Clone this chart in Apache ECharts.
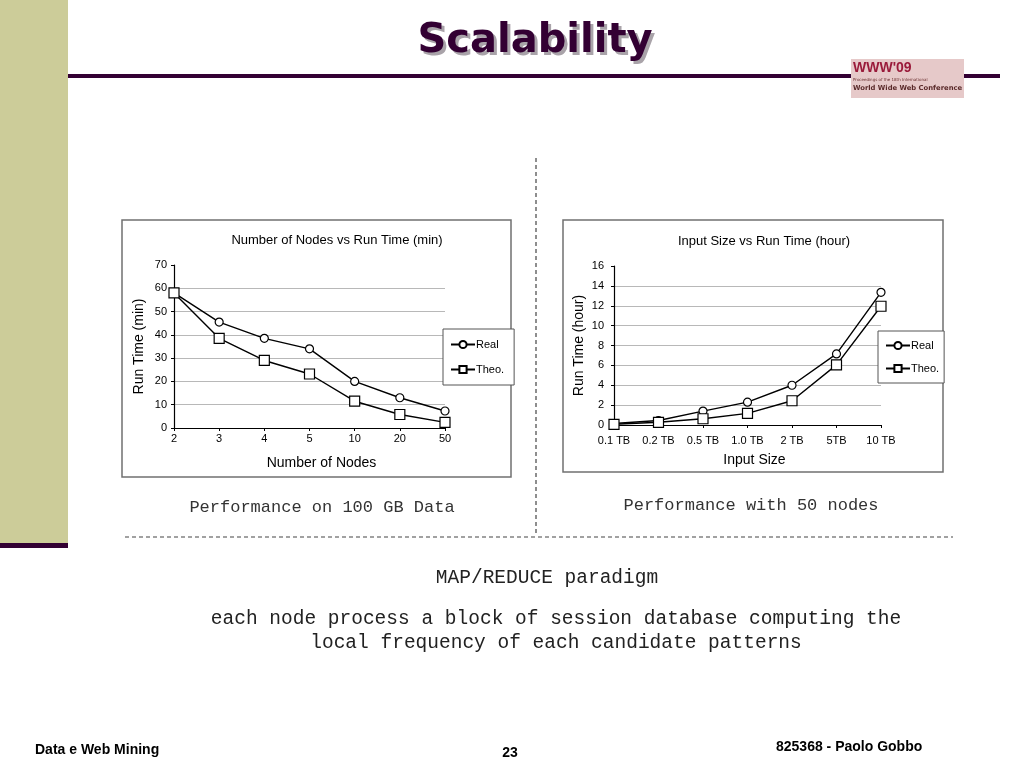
<!DOCTYPE html>
<html>
<head>
<meta charset="utf-8">
<script src="https://cdn.jsdelivr.net/npm/echarts@6/dist/echarts.min.js"></script>
<style>
html,body{margin:0;padding:0;background:#fff;}
#c{width:1024px;height:768px;}
</style>
</head>
<body>
<div id="c"></div>
<script>
// ---- data ----
const nodeCategories = ['2', '3', '4', '5', '10', '20', '50'];
const nodesReal = [58, 45.5, 38.5, 34, 20, 13, 7.3];
const nodesTheo = [58, 38.5, 29, 23.2, 11.5, 5.8, 2.4];
const nodeTicks = [0, 10, 20, 30, 40, 50, 60, 70];

const sizeCategories = ['0.1 TB', '0.2 TB', '0.5 TB', '1.0 TB', '2 TB', '5TB', '10 TB'];
const sizeReal = [0.15, 0.45, 1.4, 2.3, 4.0, 7.15, 13.35];
const sizeTheo = [0.07, 0.27, 0.63, 1.17, 2.44, 6.05, 11.95];
const sizeTicks = [0, 2, 4, 6, 8, 10, 12, 14, 16];

const seriesNames = ['Real', 'Theo.'];

// ---- chart ----
const chart = echarts.init(document.getElementById('c'), null, {renderer: 'canvas'});
const AX = '#000';
const FONT = 'Liberation Sans, Arial, sans-serif';
const purple = '#330033';

function gridColors(n) {
  const arr = [];
  for (let i = 0; i < n; i++) arr.push(i === n - 1 ? 'rgba(0,0,0,0)' : '#b8b8b8');
  return arr;
}

function xAxisCfg(gridIndex, cats, name, pad, labelMargin) {
  return {
    type: 'category', gridIndex: gridIndex, data: cats, boundaryGap: false,
    axisLine: {lineStyle: {color: AX, width: 1.2}},
    axisTick: {show: true, length: 3, lineStyle: {color: AX}},
    axisLabel: {color: '#000', fontFamily: FONT, fontSize: 11, margin: labelMargin},
    name: name, nameLocation: 'middle', nameGap: 28,
    nameTextStyle: {color: '#000', fontFamily: FONT, fontSize: 14, padding: pad}
  };
}
function yAxisCfg(gridIndex, ticks, name, labelMargin) {
  return {
    type: 'value', gridIndex: gridIndex,
    min: ticks[0], max: ticks[ticks.length - 1], interval: ticks[1] - ticks[0],
    axisLine: {show: true, lineStyle: {color: AX, width: 1.2}},
    axisTick: {show: true, length: 3, lineStyle: {color: AX}},
    axisLabel: {color: '#000', fontFamily: FONT, fontSize: 11, margin: labelMargin},
    splitLine: {show: true, lineStyle: {color: gridColors(ticks.length), width: 1}},
    name: name, nameLocation: 'middle', nameGap: 28,
    nameTextStyle: {color: '#000', fontFamily: FONT, fontSize: 14}
  };
}
function lineSeries(name, data, xi, yi, symbol, size) {
  return {
    type: 'line', name: name, data: data, xAxisIndex: xi, yAxisIndex: yi,
    symbol: symbol, symbolSize: size, showSymbol: true,
    lineStyle: {color: '#000', width: 1.4},
    itemStyle: {color: '#fff', borderColor: '#000', borderWidth: 1.2},
    emphasis: {disabled: true}, animation: false
  };
}
function legendCfg(left, top, padding, gap) {
  return {
    data: seriesNames, orient: 'vertical', left: left, top: top,
    backgroundColor: '#fff', borderColor: '#555', borderWidth: 1,
    padding: padding, itemGap: gap, itemWidth: 24, itemHeight: 9,
    textStyle: {color: '#000', fontFamily: FONT, fontSize: 11, padding: [0, 0, 0, -4]},
    selectedMode: false
  };
}

const capFont = '17px "Liberation Mono", monospace';
const bodyFont = '19.5px "Liberation Mono", monospace';
const footFont = 'bold 14px "Liberation Sans Narrow", "Liberation Sans", Arial, sans-serif';
const titleFont = 'bold 40px "DejaVu Sans", Verdana, sans-serif';

const option = {
  backgroundColor: '#fff',
  animation: false,
  title: [
    {text: 'Number of Nodes vs Run Time (min)', left: 332, top: 229, textAlign: 'center',
     textStyle: {fontFamily: FONT, fontSize: 13, fontWeight: 'normal', color: '#000'}},
    {text: 'Input Size vs Run Time (hour)', left: 759, top: 230, textAlign: 'center',
     textStyle: {fontFamily: FONT, fontSize: 13, fontWeight: 'normal', color: '#000'}}
  ],
  grid: [
    {left: 174, top: 265, width: 271, height: 163, containLabel: false},
    {left: 614, top: 266, width: 267, height: 159, containLabel: false}
  ],
  xAxis: [
    xAxisCfg(0, nodeCategories, 'Number of Nodes', [0, 0, 0, 24], 5),
    xAxisCfg(1, sizeCategories, 'Input Size', [0, 0, 0, 14], 10)
  ],
  yAxis: [
    yAxisCfg(0, nodeTicks, 'Run Time (min)', 7),
    yAxisCfg(1, sizeTicks, 'Run Time (hour)', 10)
  ],
  legend: [
    legendCfg(443, 329, [10, 10, 10, 7], 14),
    legendCfg(878, 331, [9, 5, 9, 7], 12)
  ],
  series: [
    lineSeries(seriesNames[0], nodesReal, 0, 0, 'circle', 8),
    lineSeries(seriesNames[1], nodesTheo, 0, 0, 'rect', 10),
    lineSeries(seriesNames[0], sizeReal, 1, 1, 'circle', 8),
    lineSeries(seriesNames[1], sizeTheo, 1, 1, 'rect', 10)
  ],
  graphic: [
    // sidebar
    {type: 'rect', z: -10, shape: {x: 0, y: 0, width: 68, height: 543}, style: {fill: '#cccc99'}},
    {type: 'rect', z: -10, shape: {x: 0, y: 543, width: 68, height: 5}, style: {fill: purple}},
    // title line
    {type: 'rect', z: -10, shape: {x: 68, y: 74, width: 932, height: 4}, style: {fill: purple}},
    // title shadow + title
    {type: 'text', z: 5, style: {text: 'Scalability', x: 538, y: 45, fill: '#a9a3a9',
      font: titleFont, textAlign: 'center', textVerticalAlign: 'middle'}},
    {type: 'text', z: 6, style: {text: 'Scalability', x: 535, y: 42, fill: purple,
      font: titleFont, textAlign: 'center', textVerticalAlign: 'middle'}},
    // chart frames
    {type: 'rect', z: -5, shape: {x: 122, y: 220, width: 389, height: 257}, style: {fill: '#fff', stroke: '#707070', lineWidth: 1.5}},
    {type: 'rect', z: -5, shape: {x: 563, y: 220, width: 380, height: 252}, style: {fill: '#fff', stroke: '#707070', lineWidth: 1.5}},
    // dashed separators
    {type: 'line', z: -5, shape: {x1: 536, y1: 158, x2: 536, y2: 535}, style: {stroke: '#444', lineWidth: 1.2, lineDash: [4, 3]}},
    {type: 'line', z: -5, shape: {x1: 125, y1: 537, x2: 953, y2: 537}, style: {stroke: '#444', lineWidth: 1.2, lineDash: [4, 3]}},
    // logo
    {type: 'rect', z: 2, shape: {x: 851, y: 59, width: 113, height: 39}, style: {fill: '#e6c9c9'}},
    {type: 'text', z: 3, style: {text: "WWW'09", x: 853, y: 61, fill: '#9a1a3a', font: 'bold 14px "Liberation Sans", Arial, sans-serif'}},
    {type: 'text', z: 3, style: {text: 'Proceedings of the 18th International', x: 853, y: 78, fill: '#6a3030', font: '4px "DejaVu Sans", sans-serif'}},
    {type: 'text', z: 3, style: {text: 'World Wide Web Conference', x: 853, y: 85, fill: '#5a2a2a', font: 'bold 6.8px "DejaVu Sans", Verdana, sans-serif'}},
    // captions
    {type: 'text', style: {text: 'Performance on 100 GB Data', x: 322, y: 507, fill: '#333', font: capFont, textAlign: 'center', textVerticalAlign: 'middle'}},
    {type: 'text', style: {text: 'Performance with 50 nodes', x: 751, y: 505, fill: '#333', font: capFont, textAlign: 'center', textVerticalAlign: 'middle'}},
    {type: 'text', style: {text: 'MAP/REDUCE paradigm', x: 547, y: 578, fill: '#222', font: bodyFont, textAlign: 'center', textVerticalAlign: 'middle'}},
    {type: 'text', style: {text: 'each node process a block of session database computing the', x: 556, y: 619, fill: '#222', font: bodyFont, textAlign: 'center', textVerticalAlign: 'middle'}},
    {type: 'text', style: {text: 'local frequency of each candidate patterns', x: 556, y: 643, fill: '#222', font: bodyFont, textAlign: 'center', textVerticalAlign: 'middle'}},
    // footer
    {type: 'text', style: {text: 'Data e Web Mining', x: 35, y: 750, fill: '#000', font: footFont, textVerticalAlign: 'middle'}},
    {type: 'text', style: {text: '23', x: 510, y: 753, fill: '#000', font: footFont, textAlign: 'center', textVerticalAlign: 'middle'}},
    {type: 'text', style: {text: '825368 - Paolo Gobbo', x: 776, y: 747, fill: '#000', font: footFont, textVerticalAlign: 'middle'}}
  ]
};
chart.setOption(option);
</script>
</body>
</html>
